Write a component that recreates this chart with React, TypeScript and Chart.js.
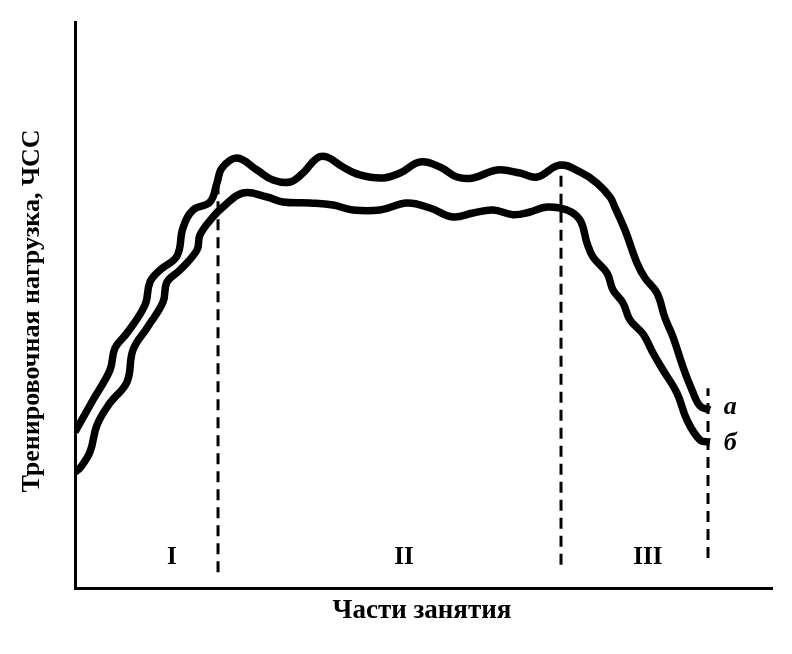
import React, { useEffect, useRef } from "react";
import { Chart, registerables } from "chart.js";

Chart.register(...registerables);

// Curve "а" (upper) – time (% of lesson) vs load
const curveAX = [0, 2.58, 5.02, 5.74, 7.46, 10.04, 10.76, 12.2, 14.63, 15.49, 16.93, 19.37, 20.37, 21.09, 23.24, 26.11, 28.41, 30.85, 32.71, 34.72, 36.15, 38.45, 40.89, 44.19, 46.63, 49.5, 52.37, 54.81, 57.1, 60.55, 63.85, 66.28, 69.58, 72.45, 74.89, 76.76, 77.47, 78.91, 80.63, 81.78, 83.5, 84.65, 85.8, 87.23, 88.52, 89.67, 91.1];
const curveAY = [27.56, 33.22, 38.52, 42.4, 45.05, 50.0, 54.06, 56.18, 58.66, 63.6, 66.78, 68.2, 71.55, 74.2, 75.97, 73.85, 72.08, 71.73, 73.32, 75.97, 76.15, 74.38, 72.97, 72.44, 73.32, 75.27, 74.38, 72.61, 72.44, 73.85, 73.32, 72.61, 74.73, 73.5, 71.55, 69.08, 67.24, 63.25, 57.42, 54.77, 52.12, 47.7, 44.35, 39.05, 34.98, 32.16, 31.45];

// Curve "б" (lower)
const curveBX = [0, 0.72, 2.15, 3.16, 5.02, 7.46, 8.32, 10.33, 12.63, 13.2, 15.06, 17.5, 17.93, 19.8, 21.23, 24.1, 27.55, 29.84, 33.72, 37.02, 39.89, 43.76, 47.63, 50.93, 54.23, 57.1, 59.97, 62.84, 65.28, 67.72, 70.59, 72.45, 73.46, 74.32, 76.33, 77.19, 78.62, 79.63, 81.49, 82.93, 84.36, 86.37, 87.8, 89.67, 91.1];
const curveBY = [20.49, 21.2, 24.03, 28.8, 32.69, 36.4, 42.05, 45.94, 50.53, 54.06, 56.18, 59.72, 62.37, 65.55, 67.31, 69.79, 69.08, 68.2, 68.02, 67.67, 66.78, 66.78, 68.02, 67.14, 65.55, 66.25, 66.78, 65.96, 66.43, 67.31, 66.78, 65.02, 60.95, 58.48, 55.65, 52.65, 50.35, 47.35, 44.88, 41.52, 38.52, 34.45, 29.68, 26.15, 25.8];

// Part boundaries (dashed lines)
const boundaryX = [20.52, 69.73, 90.82];
const boundaryTop = [71.0, 74.7, 35.3];
const boundaryBottom = [2.8, 4.1, 5.3];

// Part labels
const partLabels = ["I", "II", "III"];
const partLabelX = [13.9, 47.2, 82.2];
const partLabelY = 5.3;

// Curve labels
const curveLabels = ["а", "б"];
const curveLabelX = [94.0, 94.0];
const curveLabelY = [32.0, 25.6];

const xTitle = "Части занятия";
const yTitle = "Тренировочная нагрузка, ЧСС";

const toPts = (xs: number[], ys: number[]) => xs.map((x, i) => ({ x, y: ys[i] }));

export default function App() {
  const ref = useRef<HTMLCanvasElement | null>(null);

  useEffect(() => {
    if (!ref.current) return;

    const textPlugin = {
      id: "textPlugin",
      afterDatasetsDraw(chart: any) {
        const { ctx, scales, chartArea } = chart;
        const xs = scales.x;
        const ys = scales.y;
        ctx.save();
        ctx.fillStyle = "#000";
        ctx.textAlign = "center";
        ctx.textBaseline = "middle";
        ctx.font = "bold 25px 'Liberation Serif'";
        partLabels.forEach((t, i) => {
          ctx.fillText(t, xs.getPixelForValue(partLabelX[i]), ys.getPixelForValue(partLabelY));
        });
        ctx.font = "bold italic 26px 'Liberation Serif'";
        curveLabels.forEach((t, i) => {
          ctx.fillText(t, xs.getPixelForValue(curveLabelX[i]), ys.getPixelForValue(curveLabelY[i]));
        });
        ctx.textBaseline = "alphabetic";
        ctx.font = "bold 27px 'Liberation Serif'";
        ctx.fillText(xTitle, 422, chartArea.bottom + 30);
        ctx.save();
        ctx.translate(39, 311);
        ctx.rotate(-Math.PI / 2);
        ctx.font = "bold 26px 'Liberation Serif'";
        ctx.fillText(yTitle, 0, 0);
        ctx.restore();
        ctx.restore();
      },
    };

    const dashed = boundaryX.map((bx, i) => ({
      data: [
        { x: bx, y: boundaryBottom[i] },
        { x: bx, y: boundaryTop[i] },
      ],
      borderColor: "#000",
      borderWidth: 3,
      borderDash: [11, 7],
      pointRadius: 0,
      tension: 0,
      fill: false,
    }));

    const chart = new Chart(ref.current, {
      type: "line",
      data: {
        datasets: [
          ...dashed,
          {
            data: toPts(curveAX, curveAY),
            borderColor: "#000",
            borderWidth: 7.5,
            pointRadius: 0,
            tension: 0.4,
            fill: false,
          },
          {
            data: toPts(curveBX, curveBY),
            borderColor: "#000",
            borderWidth: 7.5,
            pointRadius: 0,
            tension: 0.4,
            fill: false,
          },
        ] as any,
      },
      options: {
        animation: false,
        responsive: true,
        maintainAspectRatio: false,
        layout: { padding: { left: 67, right: 20, top: 22, bottom: 58 } },
        plugins: { legend: { display: false }, tooltip: { enabled: false } },
        scales: {
          x: {
            type: "linear",
            min: 0,
            max: 100,
            grid: { display: false },
            ticks: { display: false },
            border: { display: true, color: "#000", width: 3 },
          },
          y: {
            type: "linear",
            min: 0,
            max: 100,
            grid: { display: false },
            ticks: { display: false },
            border: { display: true, color: "#000", width: 3 },
          },
        },
      },
      plugins: [textPlugin],
    });

    return () => chart.destroy();
  }, []);

  return (
    <div style={{ position: "fixed", left: 0, top: 0, width: 792, height: 654, background: "#fff" }}>
      <canvas ref={ref} />
    </div>
  );
}
